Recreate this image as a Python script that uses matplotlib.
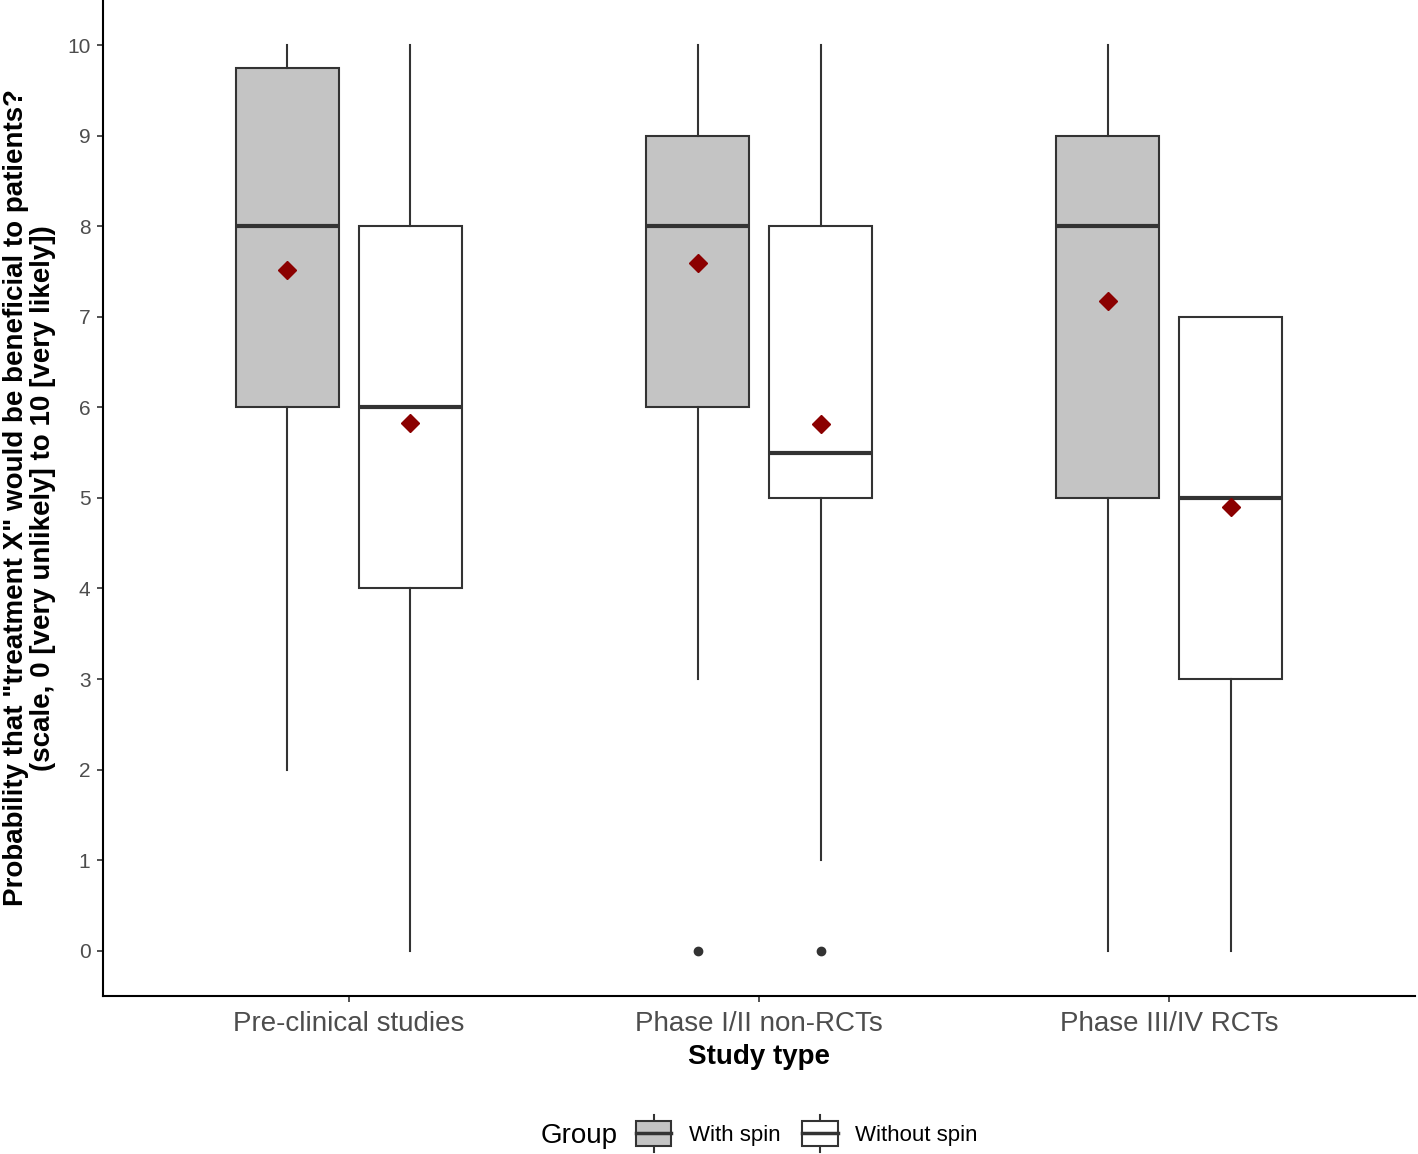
import matplotlib
matplotlib.use("Agg")
import matplotlib.pyplot as plt
from matplotlib.legend_handler import HandlerBase
from matplotlib.patches import Rectangle
from matplotlib.lines import Line2D

plt.rcParams['font.family'] = ['Liberation Sans', 'DejaVu Sans']

# data
study_types = ["Pre-clinical studies", "Phase I/II non-RCTs", "Phase III/IV RCTs"]
groups = ["With spin", "Without spin"]
fills = ["#C4C4C4", "#FFFFFF"]

# [with spin, without spin] per study type
whisker_low = [[2, 0], [3, 1], [0, 0]]
q1 = [[6, 4], [6, 5], [5, 3]]
median = [[8, 6], [8, 5.5], [8, 5]]
q3 = [[9.75, 8], [9, 8], [9, 7]]
whisker_high = [[10, 10], [10, 10], [10, 7]]
means = [[7.52, 5.83], [7.60, 5.82], [7.17, 4.90]]
outliers = [[[], []], [[0], [0]], [[], []]]

line_col = "#333333"
offset = 0.15
box_w = 0.25

fig = plt.figure(figsize=(14.18, 11.54), dpi=100)
ax = fig.add_axes([0.0726, 0.137, 0.9254, 0.863])

for i, st in enumerate(study_types):
    for g in range(2):
        pos = i + 1 + (g - 0.5) * 2 * offset
        stats = [dict(whislo=whisker_low[i][g], q1=q1[i][g], med=median[i][g],
                      q3=q3[i][g], whishi=whisker_high[i][g],
                      fliers=outliers[i][g])]
        ax.bxp(stats, positions=[pos], widths=box_w, patch_artist=True,
               showcaps=False,
               boxprops=dict(facecolor=fills[g], edgecolor=line_col, linewidth=1.5),
               whiskerprops=dict(color=line_col, linewidth=1.5),
               medianprops=dict(color=line_col, linewidth=3),
               flierprops=dict(marker='o', markerfacecolor=line_col,
                               markeredgecolor=line_col, markersize=6))
        ax.plot(pos, means[i][g], marker='D', color='#8B0000', markersize=9,
                linestyle='none', zorder=5)

ax.set_xlim(0.4, 3.6)
ax.set_ylim(-0.5, 10.5)
ax.set_xticks([1, 2, 3])
ax.set_xticklabels(study_types)
ax.set_yticks(range(0, 11))
for s in ['top', 'right']:
    ax.spines[s].set_visible(False)
for s in ['left', 'bottom']:
    ax.spines[s].set_linewidth(1.5)
    ax.spines[s].set_color('black')
ax.tick_params(axis='both', colors=line_col, length=4, width=1.2)
ax.tick_params(axis='x', labelsize=20, labelcolor='#4D4D4D', pad=7)
ax.tick_params(axis='y', labelsize=15, labelcolor='#4D4D4D', pad=5)

ax.set_xlabel("Study type", fontsize=20, fontweight='bold', labelpad=5)
ax.set_ylabel('Probability that "treatment X" would be beneficial to patients?\n'
              '(scale, 0 [very unlikely] to 10 [very likely])',
              fontsize=20, fontweight='bold', labelpad=8, linespacing=1.05)


class BoxHandler(HandlerBase):
    def create_artists(self, legend, orig_handle, xdescent, ydescent,
                       width, height, fontsize, trans):
        cx = width / 2 - xdescent
        bh = height * 1.6
        by = (height - bh) / 2 - ydescent
        rect = Rectangle((-xdescent, by), width, bh, facecolor=orig_handle,
                         edgecolor=line_col, linewidth=1.5, transform=trans)
        med = Line2D([-xdescent, width - xdescent], [by + bh / 2] * 2,
                     color=line_col, linewidth=2.5, transform=trans)
        wt = Line2D([cx, cx], [by + bh, by + bh + height * 0.4],
                    color=line_col, linewidth=1.5, transform=trans)
        wb = Line2D([cx, cx], [by, by - height * 0.4],
                    color=line_col, linewidth=1.5, transform=trans)
        return [wt, wb, rect, med]


leg = fig.legend(fills, groups, handler_map={str: BoxHandler()},
                 loc='center', bbox_to_anchor=(0.569, 0.016), ncol=2,
                 frameon=False, fontsize=16, handlelength=1.6,
                 handletextpad=0.8, columnspacing=0.95)
fig.text(0.381, 0.016, "Group", fontsize=20, va='center', ha='left')

fig.savefig("out.png", dpi=100)
